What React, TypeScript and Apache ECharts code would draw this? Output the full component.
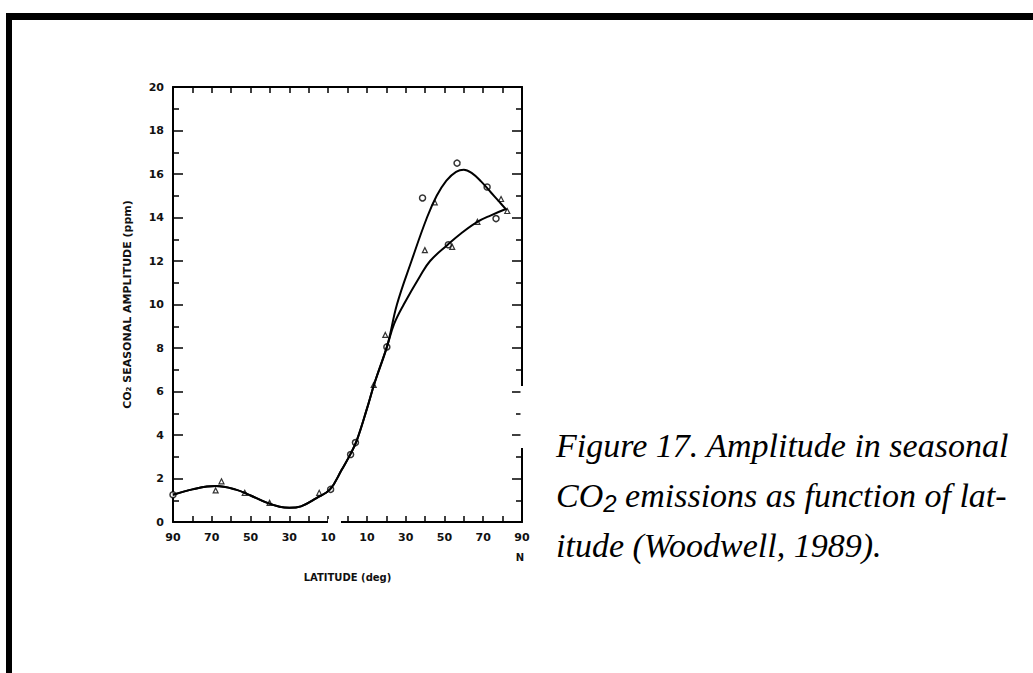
import React, { useEffect, useRef } from "react";
import * as echarts from "echarts";

// Smooth curve through the data (upper branch and lower branch share the southern part)
const sharedCurve: number[][] = [
  [-90, 1.25], [-80, 1.5], [-68, 1.65], [-58, 1.5], [-50, 1.22], [-42, 0.9],
  [-35, 0.7], [-30, 0.65], [-24, 0.72], [-16, 1.1], [-9, 1.5], [-3, 2.4],
  [2, 3.2], [5, 3.8], [10, 5.2], [14, 6.4], [20.5, 8.1],
];
const upperBranch: number[][] = [
  [25.5, 10.0], [33, 12.0], [41, 14.0], [46, 15.0], [51, 15.7], [56, 16.1],
  [60, 16.2], [64, 16.05], [69, 15.65], [74, 15.15], [78, 14.75], [82, 14.35],
];
const lowerBranch: number[][] = [
  [24, 9.1], [29, 10.0], [37.4, 11.3], [42.6, 12.0], [51.7, 12.75], [59, 13.3],
  [67, 13.8], [74, 14.1], [82, 14.4],
];
const circlePoints: number[][] = [
  [-90, 1.25], [-8.7, 1.5], [1.6, 3.1], [4.1, 3.65], [20.3, 8.05],
  [38.7, 14.9], [56.5, 16.5], [72, 15.4], [76.6, 13.95], [52, 12.75],
];
const otherPoints: number[][] = [
  [-68, 1.45], [-65, 1.87], [-53, 1.34], [-40.2, 0.88], [-14.6, 1.34],
  [13.5, 6.3], [19.5, 8.6], [45, 14.7], [39.9, 12.5], [54, 12.65],
  [67, 13.8], [79.2, 14.85], [82.4, 14.3],
];
const captionLine1 = "Figure 17. Amplitude in seasonal";
const captionLine2a = "CO";
const captionLine2b = "2";
const captionLine2c = " emissions as function of lat-";
const captionLine3 = "itude (Woodwell, 1989).";
const xLabelValues = [-90, -70, -50, -30, -10, 10, 30, 50, 70, 90];

export default function App() {
  const ref = useRef<HTMLDivElement>(null);
  useEffect(() => {
    if (!ref.current) return;
    const chart = echarts.init(ref.current, undefined, { renderer: "svg" });
    const labelFont = { fontFamily: "DejaVu Sans", fontWeight: "bold" as const, fontSize: 11, color: "#111" };
    const capFont = "italic 34px 'Liberation Serif'";
    const axisLine = { show: true, onZero: false, lineStyle: { color: "#000", width: 2 } };
    const option: any = {
      animation: false,
      backgroundColor: "#ffffff",
      grid: { left: 173, right: 511, top: 87, bottom: 151, containLabel: false },
      xAxis: [
        {
          type: "value", min: -90, max: 90, interval: 10, position: "bottom",
          axisLine,
          axisTick: { show: true, inside: true, length: 6, lineStyle: { color: "#000", width: 1.5 } },
          axisLabel: {
            ...labelFont, margin: 10,
            formatter: (v: number) => (xLabelValues.includes(v) ? String(Math.abs(v)) : ""),
          },
          splitLine: { show: false },
          name: "LATITUDE (deg)", nameLocation: "middle", nameGap: 50,
          nameTextStyle: { ...labelFont, fontSize: 10 },
        },
        {
          type: "value", min: -90, max: 90, interval: 10, position: "top",
          axisLine,
          axisTick: { show: true, inside: true, length: 6, lineStyle: { color: "#000", width: 1.5 } },
          axisLabel: { show: false }, splitLine: { show: false },
        },
      ],
      yAxis: [
        {
          type: "value", min: 0, max: 20, interval: 2, position: "left",
          axisLine,
          axisTick: { show: true, inside: true, length: 10, lineStyle: { color: "#000", width: 1.5 } },
          minorTick: { show: true, splitNumber: 2, length: 6, lineStyle: { color: "#000", width: 1.5 } },
          axisLabel: { ...labelFont, margin: 9 },
          splitLine: { show: false },
          name: "CO\u2082 SEASONAL AMPLITUDE (ppm)", nameLocation: "middle", nameGap: 40,
          nameTextStyle: { ...labelFont, fontSize: 11 },
        },
        {
          type: "value", min: 0, max: 20, interval: 2, position: "right",
          axisLine,
          axisTick: { show: true, inside: true, length: 10, lineStyle: { color: "#000", width: 1.5 } },
          minorTick: { show: true, splitNumber: 2, length: 6, lineStyle: { color: "#000", width: 1.5 } },
          axisLabel: { show: false }, splitLine: { show: false },
        },
      ],
      series: [
        {
          type: "line", smooth: 0.4, symbol: "none",
          data: [...sharedCurve, ...upperBranch],
          lineStyle: { color: "#000", width: 2 },
        },
        {
          type: "line", smooth: 0.4, symbol: "none",
          data: [...sharedCurve, ...lowerBranch],
          lineStyle: { color: "#000", width: 2 },
        },
        {
          type: "scatter", symbol: "circle", symbolSize: 6, data: circlePoints,
          itemStyle: { color: "#fff", borderColor: "#000", borderWidth: 1.5 },
        },
        {
          type: "scatter", symbol: "triangle", symbolSize: 5, data: otherPoints,
          itemStyle: { color: "#fff", borderColor: "#000", borderWidth: 1.2 },
        },
      ],
      graphic: [
        { type: "rect", shape: { x: 6, y: 13, width: 1027, height: 7 }, style: { fill: "#000" } },
        { type: "rect", shape: { x: 6, y: 13, width: 6, height: 660 }, style: { fill: "#000" } },
        // breaks in the scanned frame
        { type: "rect", shape: { x: 328, y: 519, width: 13, height: 6 }, style: { fill: "#fff" }, z: 100 },
        { type: "rect", shape: { x: 520.5, y: 386, width: 4, height: 62 }, style: { fill: "#fff" }, z: 100 },
        { type: "text", x: 520, y: 557, style: { text: "N", font: "bold 10px 'DejaVu Sans'", fill: "#111", align: "center", verticalAlign: "middle" } },
        { type: "text", x: 556, y: 445, style: { text: captionLine1, font: capFont, fill: "#000", verticalAlign: "middle" } },
        {
          type: "text", x: 556, y: 495,
          style: {
            text: "{a|" + captionLine2a + "}{s|" + captionLine2b + "}{a|" + captionLine2c + "}",
            fill: "#000", verticalAlign: "middle",
            rich: {
              a: { font: capFont, fill: "#000" },
              s: { font: "italic 24px 'Liberation Sans'", fill: "#000", padding: [16, 0, 0, 0] },
            },
          },
        },
        { type: "text", x: 556, y: 545, style: { text: captionLine3, font: capFont, fill: "#000", verticalAlign: "middle" } },
      ],
    };
    chart.setOption(option);
    return () => chart.dispose();
  }, []);
  return (
    <div
      ref={ref}
      style={{ position: "fixed", left: 0, top: 0, width: 1033, height: 673, background: "#fff" }}
    />
  );
}
